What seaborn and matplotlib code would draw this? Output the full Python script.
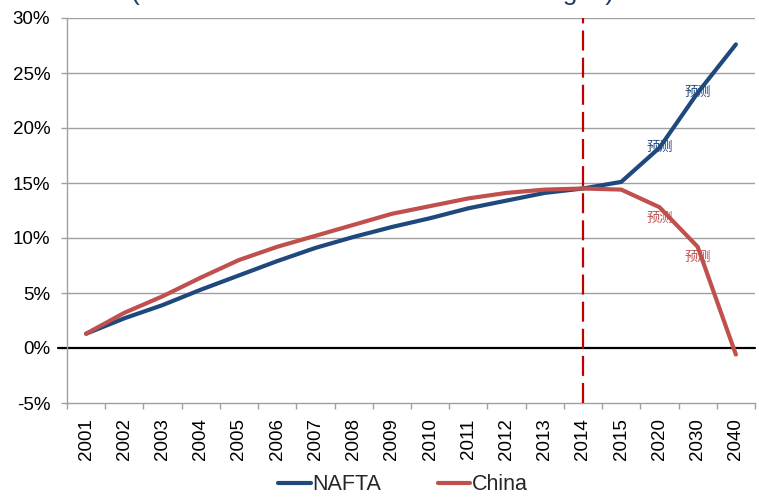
import matplotlib
matplotlib.use("Agg")
import matplotlib.pyplot as plt
import seaborn as sns
import pandas as pd
from matplotlib.ticker import FixedLocator, FuncFormatter

years = ["2001", "2002", "2003", "2004", "2005", "2006", "2007", "2008", "2009",
         "2010", "2011", "2012", "2013", "2014", "2015", "2020", "2030", "2040"]
nafta = [1.3, 2.7, 3.9, 5.3, 6.6, 7.9, 9.1, 10.1, 11.0, 11.8, 12.7, 13.4, 14.1,
         14.5, 15.1, 18.2, 23.2, 27.6]
china = [1.3, 3.2, 4.7, 6.4, 8.0, 9.2, 10.2, 11.2, 12.2, 12.9, 13.6, 14.1, 14.4,
         14.5, 14.4, 12.8, 9.2, -0.6]
series_names = ["NAFTA", "China"]
series_colors = ["#1F497D", "#C0504D"]
yticks = [-5, 0, 5, 10, 15, 20, 25, 30]
forecast_years = ["2020", "2030"]
forecast_label = "预测"
divider_year = "2014"
title_text = "(Cost increase relative to 2001 averages)"

sns.set_theme(style="white")
plt.rcParams["font.family"] = ["Liberation Sans", "DejaVu Sans"]
plt.rcParams["axes.unicode_minus"] = False

pos = list(range(len(years)))
df = pd.DataFrame({
    "pos": pos * 2,
    "value": nafta + china,
    "series": [series_names[0]] * len(years) + [series_names[1]] * len(years),
})

fig = plt.figure(figsize=(7.59, 4.97), dpi=100)
ax = fig.add_axes([67 / 759, 1 - 403 / 497, 688 / 759, 385 / 497])

sns.lineplot(data=df, x="pos", y="value", hue="series", palette=series_colors,
             linewidth=3.0, ax=ax, legend=False, solid_capstyle="round")

ax.set_xlim(-0.5, len(years) - 0.5)
ax.set_ylim(-5, 30)
ax.set_xlabel("")
ax.set_ylabel("")

# grid
ax.set_yticks(yticks)
ax.yaxis.set_major_formatter(FuncFormatter(lambda v, p: f"{int(v)}%"))
for v in yticks[2:]:
    ax.axhline(v, color="#A0A0A0", linewidth=1.0, zorder=0)
# zero line extending slightly left
ax.plot([-0.013, 1], [0, 0], transform=ax.get_yaxis_transform(), color="black",
        linewidth=1.6, clip_on=False, zorder=1)

# x ticks: boundaries as major ticks, labels at centres
ax.xaxis.set_major_locator(FixedLocator([i - 0.5 for i in range(len(years) + 1)]))
ax.xaxis.set_major_formatter(FuncFormatter(lambda v, p: ""))
ax.xaxis.set_minor_locator(FixedLocator(pos))
ax.set_xticklabels(years, minor=True, rotation=90)
ax.tick_params(axis="x", which="major", direction="out", length=4, width=1,
               color="#A0A0A0", bottom=True)
ax.tick_params(axis="x", which="minor", length=0, pad=11, labelsize=13.5,
               labelcolor="black", bottom=True)
ax.tick_params(axis="y", direction="out", length=4, width=1, color="#A0A0A0",
               pad=8, labelsize=13.5, labelcolor="black", left=True)

for side in ["top", "right"]:
    ax.spines[side].set_visible(False)
for side in ["left", "bottom"]:
    ax.spines[side].set_color("#A0A0A0")
    ax.spines[side].set_linewidth(1.0)

# vertical divider
ax.axvline(years.index(divider_year), color="#C00000", linewidth=1.6,
           dashes=(9, 3.2), zorder=3)

# forecast labels
cjk = ["Noto Sans CJK SC", "DejaVu Sans"]
for fy in forecast_years:
    i = years.index(fy)
    ax.text(i, nafta[i], forecast_label, color=series_colors[0], fontsize=9.5,
            family=cjk, ha="center", va="center", zorder=4)
    ax.annotate(forecast_label, (i, china[i]), xytext=(0, -11),
                textcoords="offset pixels", color=series_colors[1], fontsize=9.5,
                family=cjk, ha="center", va="center", zorder=4)

# clipped title
fig.text(131 / 759, 1.0, title_text, ha="left", va="baseline", fontsize=19,
         color="#1F3864")

handles = ax.lines[:2]
fig.legend(handles, series_names, loc="center", bbox_to_anchor=(0.531, 0.025),
           ncol=2, frameon=False, fontsize=15.5, handlelength=1.5,
           handletextpad=0.1, columnspacing=2.6, borderpad=0)

fig.savefig("out.png", dpi=100)
